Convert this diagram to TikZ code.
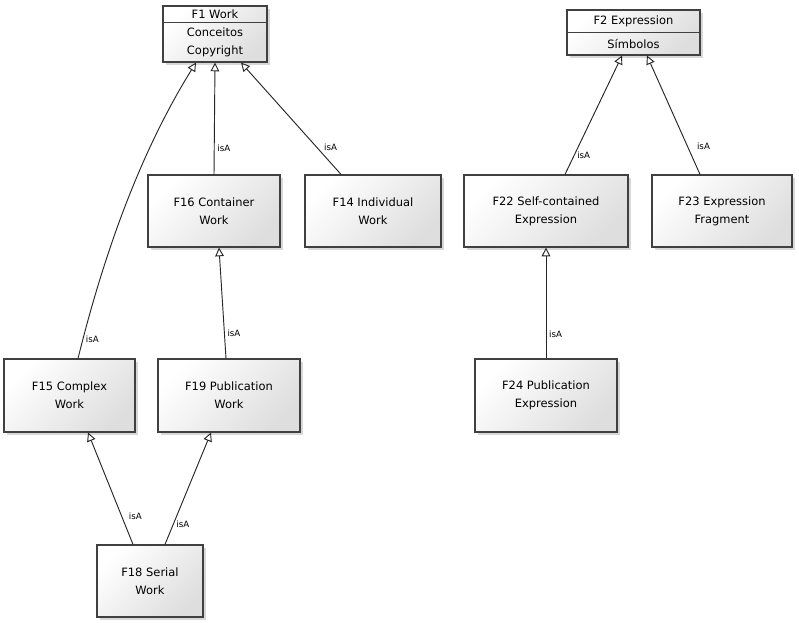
\documentclass[tikz,border=0pt]{standalone}
\usepackage{fontspec}
\setmainfont{DejaVu Sans}
\usetikzlibrary{arrows.meta,shadows}

\begin{document}
\begin{tikzpicture}[
			x=0.75pt, y=-0.75pt,
			classnode/.style={
				rectangle,
				draw=black!75,
				line width=0.9pt,
				top color=white,
				bottom color=black!13,
				shading angle=45,
				drop shadow={shadow xshift=2.25pt, shadow yshift=-2.25pt, fill=black!30},
				align=center,
				inner sep=0pt,
				font=\fontsize{8.6}{13.5}\selectfont
			},
			textnode/.style={
				inner sep=0pt,
				font=\fontsize{8.6}{13.5}\selectfont
			},
			isa/.style={-{Triangle[open,length=6.5pt,width=6.5pt]},line width=0.7pt,draw=black!85},
			isalabel/.style={anchor=west,inner sep=1pt,xshift=1pt,font=\fontsize{6.5}{8}\selectfont}
			]
			\useasboundingbox (0,0) rectangle (799,623);
			
			\node[classnode, minimum width=78pt, minimum height=42pt] (F1) at (215,34) {};
			\draw[draw=black!75, line width=0.9pt] ([yshift=-12.75pt]F1.north west) -- ([yshift=-12.75pt]F1.north east);
			\node[textnode] (F1head) at (215,14.5) {F1 Work};
			\node[textnode] (F1c) at (215,32) {Conceitos};
			\node[textnode] (F1d) at (215,51) {Copyright};
			
			\node[classnode, minimum width=99.75pt, minimum height=33.75pt] (F2) at (633.5,32.5) {};
			\draw[draw=black!75, line width=0.9pt] ([yshift=-17.25pt]F2.north west) -- ([yshift=-17.25pt]F2.north east);
			\node[textnode] (F2head) at (633.5,21.5) {F2 Expression};
			\node[textnode] (F2s) at (633.5,44) {Símbolos};
			
			\node[classnode, minimum width=99pt, minimum height=54pt] (F16) at (214,211) {F16 Container\\Work};
			\node[classnode, minimum width=102pt, minimum height=54pt] (F14) at (373,211) {F14 Individual\\Work};
			\node[classnode, minimum width=123pt, minimum height=54pt] (F22) at (546,211) {F22 Self-contained\\Expression};
			\node[classnode, minimum width=105pt, minimum height=54pt] (F23) at (722,211) {F23 Expression\\Fragment};
			\node[classnode, minimum width=98.25pt, minimum height=54.75pt] (F15) at (69.5,395.5) {F15 Complex\\Work};
			\node[classnode, minimum width=106.5pt, minimum height=54.75pt] (F19) at (229,395.5) {F19 Publication\\Work};
			\node[classnode, minimum width=106.5pt, minimum height=54.75pt] (F24) at (546,395.5) {F24 Publication\\Expression};
			\node[classnode, minimum width=79.5pt, minimum height=54pt] (F18) at (150,581) {F18 Serial\\Work};
			
			\draw[isa] (F16.north) -- (F1.south) node[isalabel, pos=0.23] {isA};
			\draw[isa] ([xshift=-24pt]F14.north) -- ([xshift=19.5pt]F1.south) node[isalabel, pos=0.24, xshift=3pt] {isA};
			\draw[isa] ([xshift=6.4pt]F15.north) .. controls +(22,-89) and +(-61,98) .. ([xshift=-14.25pt]F1.south) node[isalabel, pos=0.07] {isA};
			\draw[isa] ([xshift=-2.25pt]F19.north) -- ([xshift=3.75pt]F16.south) node[isalabel, pos=0.23] {isA};
			\draw[isa] ([xshift=14.25pt]F22.north) -- ([xshift=-8.6pt]F2.south) node[isalabel, pos=0.16] {isA};
			\draw[isa] ([xshift=-16.5pt]F23.north) -- ([xshift=10.1pt]F2.south) node[isalabel, pos=0.24, xshift=5pt] {isA};
			\draw[isa] (F24.north) -- (F22.south) node[isalabel, pos=0.22] {isA};
			\draw[isa] ([xshift=-12.75pt]F18.north) -- ([xshift=13.9pt]F15.south) node[isalabel, pos=0.25, xshift=3pt] {isA};
			\draw[isa] ([xshift=11.25pt]F18.north) -- ([xshift=-13.5pt]F19.south) node[isalabel, pos=0.18] {isA};
		\end{tikzpicture}
\end{document}
